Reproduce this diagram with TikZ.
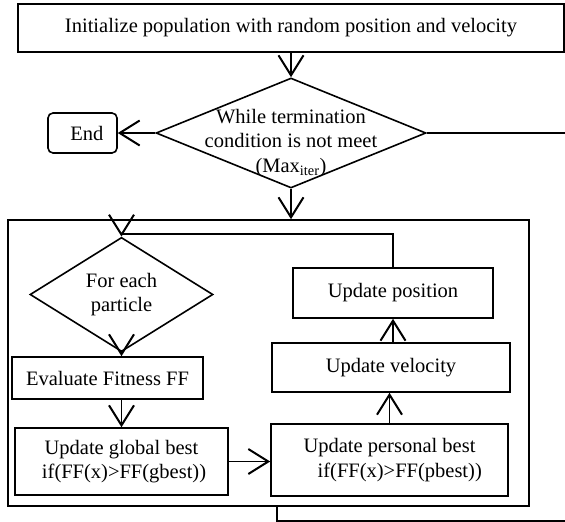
\documentclass[tikz,border=0pt]{standalone}
\usepackage{fontspec}
\setmainfont{Liberation Serif}
\usetikzlibrary{arrows.meta,shapes.geometric}
\tikzset{
  procbox/.style={draw, line width=1.6pt, inner sep=0pt, align=center},
  decision/.style={draw, diamond, line width=1.6pt, inner sep=0pt, align=center},
  flow/.style={line width=1.6pt, -{Straight Barb[length=20pt,width=25pt,line width=2pt]}},
}
\begin{document}
\begin{tikzpicture}[x=1pt,y=-1pt,font=\fontsize{20.5}{24.5}\selectfont]
\useasboundingbox (0,0) rectangle (565,522);
% outer steps
\node[procbox, minimum width=546pt, minimum height=48pt] (init) at (291,28)
    {Initialize population with random position and velocity};
\node[decision, minimum width=270pt, minimum height=110pt] (cond) at (291,133) {};
\node[align=center, inner sep=0pt] (condtext) at (291,143)
    {While termination\\condition is not meet\\(Max\textsubscript{iter})};
\node[procbox, rounded corners=5pt, minimum width=69pt, minimum height=40pt] (end) at (82.5,133) {\ \,End};
\coordinate (exitR) at (565,133);
\node[procbox, minimum width=521pt, minimum height=286pt] (loop) at (268.5,363) {};

% inner loop
\node[decision, minimum width=183pt, minimum height=77pt] (each) at (121.5,294.5) {For each\\particle};
\node[procbox, minimum width=191pt, minimum height=42pt] (eval) at (107.5,378) {Evaluate Fitness FF};
\node[procbox, minimum width=213pt, minimum height=67pt] (gbest) at (121.5,461.5)
    {Update global best\\\ if(FF(x)>FF(gbest))};
\node[procbox, minimum width=237pt, minimum height=72pt] (pbest) at (389.5,460)
    {Update personal best\\\quad if(FF(x)>FF(pbest))};
\node[procbox, minimum width=238pt, minimum height=49pt] (vel) at (391,367.5) {Update velocity};
\node[procbox, minimum width=200pt, minimum height=50pt] (pos) at (393,293) {Update position};
\coordinate (loopout) at (277,521);
\coordinate (exitB) at (565,521);

\draw[flow] (init.south) -- (cond.north);
\draw[flow] (cond.west) -- (end.east);
\draw[line width=1.6pt] (cond.east) -- (exitR);
\draw[flow] (cond.south) -- (loop.north -| cond.south);
\draw[flow] (pos.north) -- ++(0,-33) -| (each.north);
\draw[flow] (each.south) -- (each.south |- eval.north);
\draw[flow] (eval.south -| each.south) -- (gbest.north -| each.south);
\draw[flow] (gbest.east) -- (gbest.east -| pbest.west);
\draw[flow] (pbest.north) -- (pbest.north |- vel.south);
\draw[flow] (vel.north -| pos.south) -- (pos.south);
\draw[line width=1.6pt] (loop.south -| loopout) -- (loopout) -- (exitB);
\end{tikzpicture}
\end{document}
